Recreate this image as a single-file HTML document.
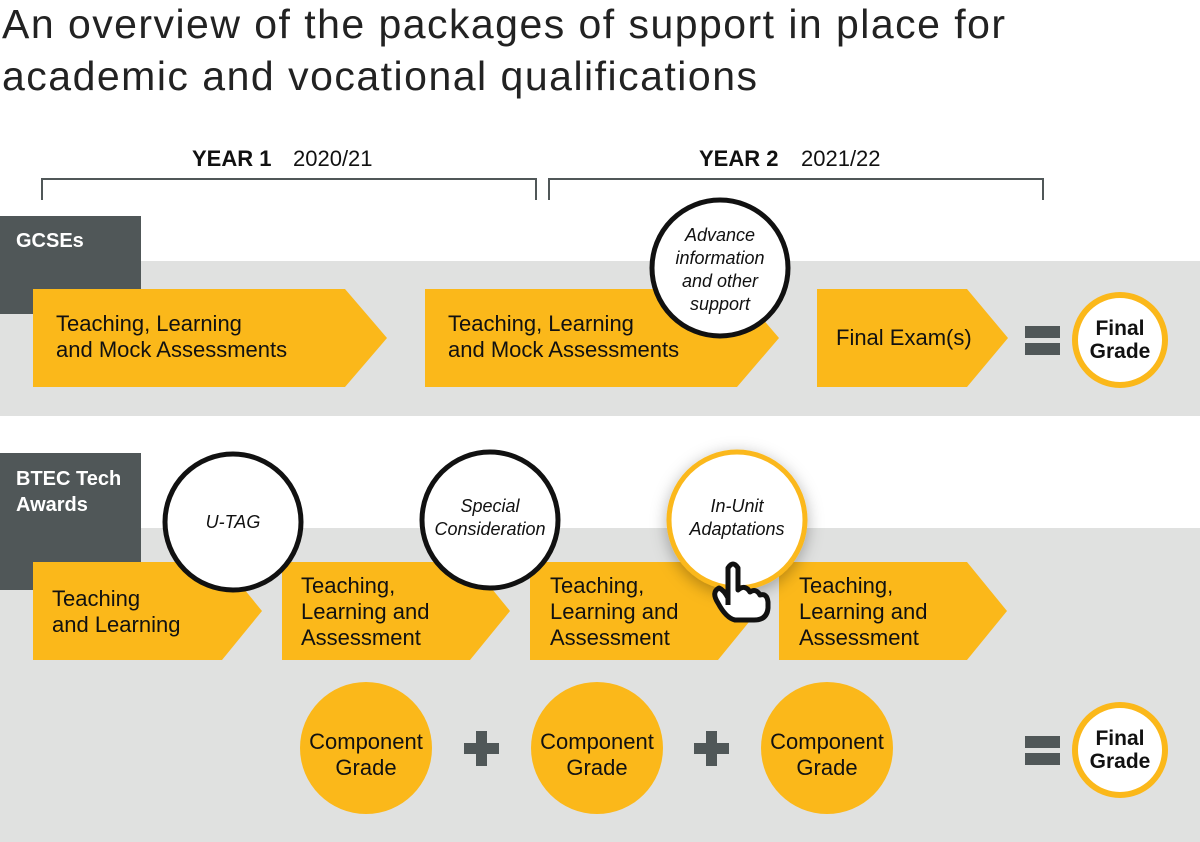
<!DOCTYPE html>
<html><head><meta charset="utf-8"><style>
body{margin:0;background:#fff}
svg{display:block;font-family:"Liberation Sans",sans-serif}
</style></head><body>
<svg width="1200" height="842" viewBox="0 0 1200 842">
<defs><filter id="sh" x="-30%" y="-30%" width="160%" height="160%"><feDropShadow dx="0" dy="4" stdDeviation="8" flood-color="#000" flood-opacity="0.3"/></filter></defs>
<text x="2" y="38" font-size="41" fill="#222" textLength="1003" lengthAdjust="spacing">An overview of the packages of support in place for</text>
<text x="2" y="90" font-size="41" fill="#222" textLength="755" lengthAdjust="spacing">academic and vocational qualifications</text>
<text x="192" y="166" font-size="22" font-weight="bold" fill="#111">YEAR 1</text>
<text x="293" y="166" font-size="22" fill="#111">2020/21</text>
<text x="699" y="166" font-size="22" font-weight="bold" fill="#111">YEAR 2</text>
<text x="801" y="166" font-size="22" fill="#111">2021/22</text>
<path d="M42 200V179H536V200M549 200V179H1043V200" fill="none" stroke="#505758" stroke-width="2"/>
<rect x="0" y="261" width="1200" height="155" fill="#e0e1e0"/>
<rect x="0" y="216" width="141" height="98" fill="#505758"/>
<text x="16" y="247" font-size="20" font-weight="bold" fill="#fff">GCSEs</text>
<g fill="#fbb81a">
<path d="M33 289H345L387 338L345 387H33Z"/>
<path d="M425 289H737L779 338L737 387H425Z"/>
<path d="M817 289H967L1008 338L967 387H817Z"/>
</g>
<g font-size="22" fill="#111">
<text x="56" y="331">Teaching, Learning</text><text x="56" y="357">and Mock Assessments</text>
<text x="448" y="331">Teaching, Learning</text><text x="448" y="357">and Mock Assessments</text>
<text x="836" y="345">Final Exam(s)</text>
</g>
<circle cx="720" cy="268" r="68" fill="#fff" stroke="#111" stroke-width="5"/>
<g font-size="18" font-style="italic" fill="#111" text-anchor="middle">
<text x="720" y="241">Advance</text><text x="720" y="264">information</text><text x="720" y="287">and other</text><text x="720" y="310">support</text>
</g>
<rect x="1025" y="326" width="35" height="12" fill="#505758"/><rect x="1025" y="343" width="35" height="12" fill="#505758"/>
<circle cx="1120" cy="340" r="45" fill="#fff" stroke="#fbb81a" stroke-width="6"/>
<text x="1120" y="335" font-size="21" font-weight="bold" text-anchor="middle" fill="#111">Final</text>
<text x="1120" y="358" font-size="21" font-weight="bold" text-anchor="middle" fill="#111">Grade</text>

<rect x="0" y="528" width="1200" height="314" fill="#e0e1e0"/>
<rect x="0" y="453" width="141" height="137" fill="#505758"/>
<text x="16" y="485" font-size="20" font-weight="bold" fill="#fff">BTEC Tech</text>
<text x="16" y="511" font-size="20" font-weight="bold" fill="#fff">Awards</text>
<g fill="#fbb81a">
<path d="M33 562H222L262 611L222 660H33Z"/>
<path d="M282 562H470L510 611L470 660H282Z"/>
<path d="M530 562H718L758 611L718 660H530Z"/>
<path d="M779 562H967L1007 611L967 660H779Z"/>
</g>
<g font-size="22" fill="#111">
<text x="52" y="606">Teaching</text><text x="52" y="632">and Learning</text>
<text x="301" y="593">Teaching,</text><text x="301" y="619">Learning and</text><text x="301" y="645">Assessment</text>
<text x="550" y="593">Teaching,</text><text x="550" y="619">Learning and</text><text x="550" y="645">Assessment</text>
<text x="799" y="593">Teaching,</text><text x="799" y="619">Learning and</text><text x="799" y="645">Assessment</text>
</g>
<circle cx="233" cy="522" r="68" fill="#fff" stroke="#111" stroke-width="5"/>
<circle cx="490" cy="520" r="68" fill="#fff" stroke="#111" stroke-width="5"/>
<circle cx="737" cy="520" r="68" fill="#fff" stroke="#fbb81a" stroke-width="5" filter="url(#sh)"/>
<g font-size="18" font-style="italic" fill="#111" text-anchor="middle">
<text x="233" y="528">U-TAG</text>
<text x="490" y="512">Special</text><text x="490" y="535">Consideration</text>
<text x="737" y="512">In-Unit</text><text x="737" y="535">Adaptations</text>
</g>
<path d="M728 605V568Q733 560 738 568V590Q745 584 750 592Q756 588 760 595Q767 593 768 602V608Q767 620 754 620H735Q726 618 718 603Q711 592 719 588Q724 590 728 598" fill="#fff" stroke="#111" stroke-width="5" stroke-linejoin="round"/>
<g fill="#fbb81a"><circle cx="366" cy="748" r="66"/><circle cx="597" cy="748" r="66"/><circle cx="827" cy="748" r="66"/></g>
<g font-size="22" fill="#111" text-anchor="middle">
<text x="366" y="749">Component</text><text x="366" y="775">Grade</text>
<text x="597" y="749">Component</text><text x="597" y="775">Grade</text>
<text x="827" y="749">Component</text><text x="827" y="775">Grade</text>
</g>
<g fill="#505758">
<path d="M476 731h11v12h12v11h-12v12h-11v-12h-12v-11h12z"/>
<path d="M706 731h11v12h12v11h-12v12h-11v-12h-12v-11h12z"/>
<rect x="1025" y="736" width="35" height="12"/><rect x="1025" y="753" width="35" height="12"/>
</g>
<circle cx="1120" cy="750" r="45" fill="#fff" stroke="#fbb81a" stroke-width="6"/>
<text x="1120" y="745" font-size="21" font-weight="bold" text-anchor="middle" fill="#111">Final</text>
<text x="1120" y="768" font-size="21" font-weight="bold" text-anchor="middle" fill="#111">Grade</text>
</svg>
</body></html>
